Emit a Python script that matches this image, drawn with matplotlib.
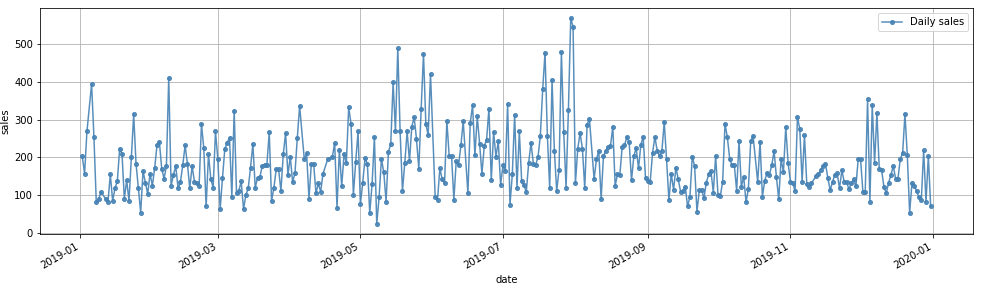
import pandas as pd
import matplotlib
matplotlib.use("Agg")
from matplotlib import pyplot as plt
import matplotlib.dates as mdates

# daily sales per month, series starts 2019-01-02 (None = day not in the data)
jan = [203, 157, 269, None, 395, 253, 81, 89, 108, None, 91, 82, 155, 85, 118,
       137, 223, 210, 91, 139, 85, 202, 314, 184, 118, 54, 164, 133, 103, 157]
feb = [125, 173, 234, 241, 170, 144, 177, 411, 125, 154, 177, 118, 135, 179,
       232, 183, 118, 177, 136, 132, 125, 289, 225, 70, 208, 144, 120, 269]
mar = [196, 63, 146, 223, 239, 252, 96, 324, 107, 111, 137, 63, 100, 118, 173,
       236, 120, 146, 148, 177, 181, 181, 267, 85, 120, 169, 169, 111, 208, 265, 153]
apr = [202, 135, 158, 251, 337, None, 195, 211, 91, 182, 184, 105, 131, 109, 157,
       None, 195, None, 201, 239, 66, 221, 123, 208, 186, 333, 289, 100, 189, 269]
may = [76, 133, 199, 182, 53, 129, 254, 24, 94, 196, 161, 83, 215, 236, 399,
       269, 490, 269, 111, 186, 269, 190, 282, 307, 249, 170, 329, 475, 289, 259, 421]
jun = [None, 96, 88, 171, 142, 132, 296, 204, 204, 88, 190, 179, 232, 296, None,
       105, 291, 339, 206, 309, 237, 157, 230, 247, 329, 139, 267, 202, 243, 127]
jul = [179, 164, 341, 75, 155, 313, 120, 269, 138, 126, 109, 186, 239, 184, 180,
       202, 258, 381, 478, 258, 118, 405, 217, 111, 168, 480, 268, 120, 326, 569, 547]
aug = [131, 223, 265, 223, 118, 287, 302, None, 142, 196, 217, 89, 204, 217, 228,
       230, 282, 125, 155, 153, 228, 232, 254, 240, 139, 204, 225, 171, 234, 254, 145]
sep = [138, 135, 212, 254, 218, 204, 217, 294, 195, 87, 157, 114, 173, 142, 109,
       111, 122, 70, 96, 202, 177, 56, 113, 113, 92, 133, 155, 164, 107, 204]
oct_ = [101, 98, 136, 289, 254, 197, 179, 179, 111, 243, 122, 149, 82, 116, 243,
        258, None, 135, 241, 96, 138, 160, 154, 179, 217, 148, 89, 196, 161, 281, 186]
nov = [135, 132, 110, 307, 275, 136, 259, 129, 122, 132, None, 151, 155, 168, 177,
       183, 146, 113, 135, 154, 158, 118, 166, 136, 136, 116, 131, 142, 123, 196]
dec = [196, 109, 109, 354, 83, 339, 186, 318, 170, 167, 122, 105, 133, 154, 177,
       144, 144, 196, 212, 315, 206, 53, 133, 125, 110, 95, 87, 219, 82, 204, 70]

sales = jan + feb + mar + apr + may + jun + jul + aug + sep + oct_ + nov + dec
dates = pd.date_range("2019-01-02", periods=len(sales), freq="D")
df = pd.DataFrame({"date": dates, "sales": sales}).dropna()

fig = plt.figure(figsize=(996 / 72, 289 / 72), dpi=72)
ax = fig.add_axes([0.040, 0.19, 0.937, 0.782])

ax.plot(df["date"], df["sales"], color="steelblue", marker="o", markersize=4,
        linewidth=1.5, alpha=0.9, label="Daily sales")
ax.grid(True)
ax.set_xlabel("date")
ax.set_ylabel("sales")
ax.xaxis.set_major_locator(mdates.MonthLocator(interval=2))
ax.xaxis.set_major_formatter(mdates.DateFormatter("%Y-%m"))
for lbl in ax.get_xticklabels():
    lbl.set_rotation(30)
    lbl.set_ha("right")
ax.legend(loc="upper right")

fig.savefig("out.png", dpi=72)
